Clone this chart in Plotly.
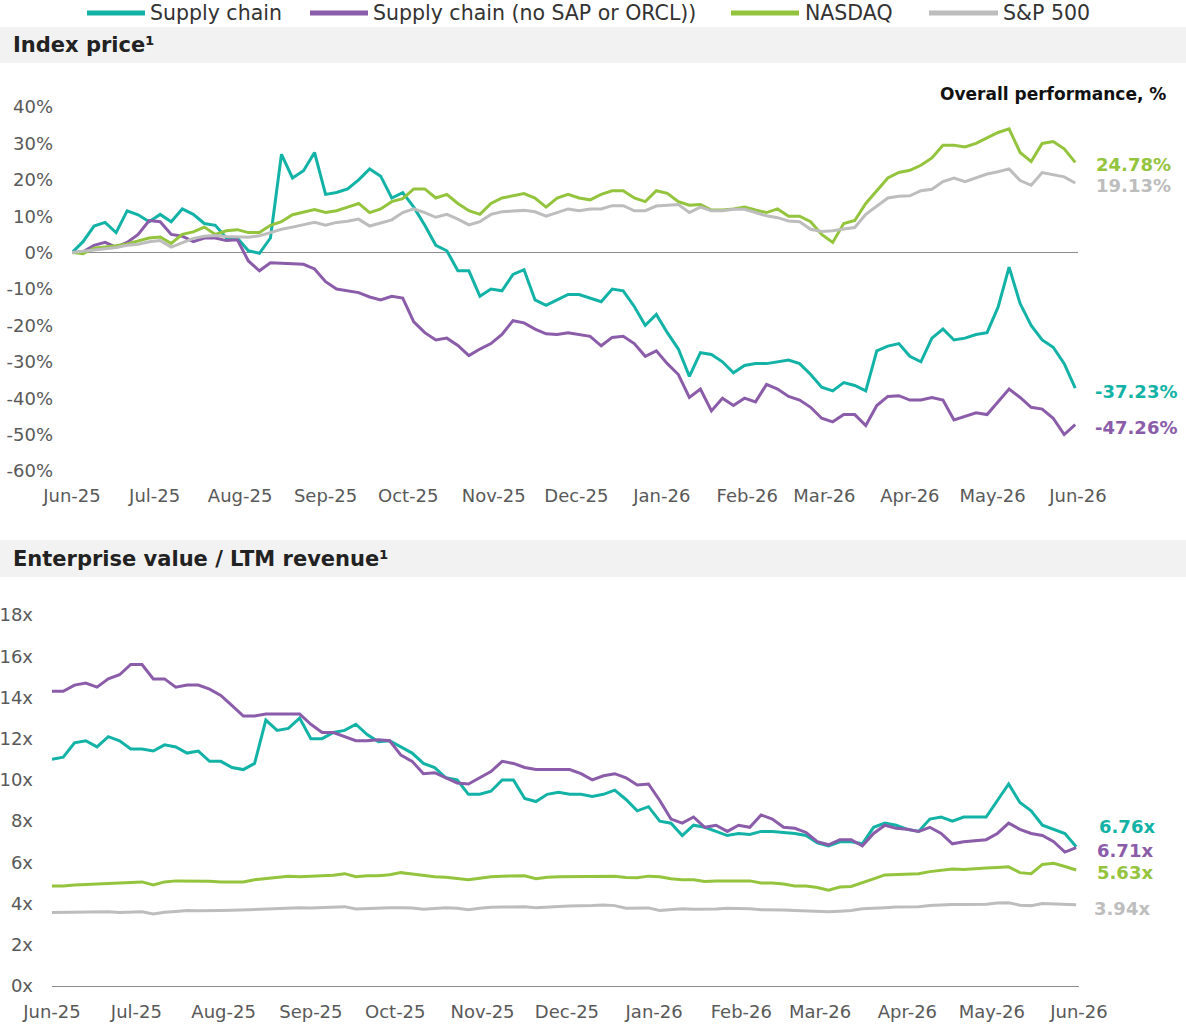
import pandas as pd
import plotly.graph_objects as go

# ---------------- DATA ----------------
dates = pd.date_range("2025-06-01", periods=92, freq="4D")

series_names = ["Supply chain", "Supply chain (no SAP or ORCL))", "NASDAQ", "S&P 500"]

# Index price, % change since start
price_supply = [0, 3, 7.3, 8.3, 5.5, 11.5, 10.4, 8.5, 10.5, 8.5, 12, 10.5, 8, 7.5, 4, 4, 0.5, -0.2, 4, 27,
                20.5, 22.5, 27.5, 16, 16.5, 17.5, 20, 23, 21, 15, 16.5, 12.5, 7.5, 2, 0.5, -5, -5, -12, -10, -10.5,
                -6, -4.7, -13, -14.5, -13, -11.5, -11.5, -12.5, -13.5, -10, -10.5, -14.8, -20, -17, -22, -26.5, -34, -27.5, -28, -30,
                -33, -31, -30.5, -30.5, -30, -29.5, -30.5, -33.5, -37, -38, -35.7, -36.5, -38, -27, -25.7, -25, -28.5, -30, -23.5, -21,
                -24, -23.5, -22.5, -22, -15, -4, -14, -20, -24, -26, -30.5, -37.23]
price_supply_ex = [0, 0.2, 2, 2.8, 1.5, 2.8, 5, 8.8, 8.5, 5, 4.5, 3, 4, 4, 3.3, 3.5, -2.3, -5, -2.8, -3,
                   -3, -3.2, -4.5, -8, -10, -10.5, -11, -12.2, -13, -12, -12.5, -19, -22, -24, -23.5, -25.5, -28.3, -26.5, -25, -22.5,
                   -18.7, -19.3, -21, -22.3, -22.5, -22, -22.5, -23, -25.6, -23.3, -23, -25, -28.5, -27, -30.5, -33.5, -39.8, -37.5, -43.5, -40,
                   -42, -40, -41, -36.2, -37.5, -39.5, -40.5, -42.5, -45.5, -46.5, -44.5, -44.5, -47.5, -42, -39.5, -39.3, -40.5, -40.5, -39.8, -40.5,
                   -46, -45, -44, -44.5, -41, -37.5, -39.8, -42.5, -43, -45.5, -50, -47.26]
price_nasdaq = [0, -0.3, 1.2, 1.5, 1.9, 2.4, 3.3, 4, 4.3, 2.5, 5, 5.7, 7, 5, 6, 6.3, 5.5, 5.5, 7.5, 8.5,
                10.4, 11, 11.8, 11, 11.5, 12.5, 13.5, 11, 12, 14, 14.8, 17.5, 17.5, 15, 16, 13.5, 11.5, 10.5, 13.5, 15,
                15.5, 16.2, 15, 12.5, 15, 16, 15, 14.5, 16, 17, 17, 15, 14, 17, 16.3, 14, 13, 13.2, 11.7, 11.7,
                12, 12.5, 11.7, 11, 12, 10, 10, 8.5, 5, 2.8, 8, 8.8, 13.5, 17, 20.5, 22, 22.6, 24, 26, 29.5,
                29.5, 29, 30, 31.5, 33, 34, 27.5, 25, 30, 30.5, 28.5, 24.78]
price_sp500 = [0, 0.3, 0.8, 1, 1.4, 2, 2.3, 3, 3.3, 1.5, 2.8, 3.9, 4.5, 4.7, 4.4, 4.2, 4.2, 4.6, 5.5, 6.4,
               7, 7.6, 8.3, 7.5, 8.3, 8.6, 9.2, 7.3, 8.1, 9, 11, 12, 11, 9.7, 10.5, 9.2, 7.6, 8.5, 10.5, 11.2,
               11.4, 11.6, 11.2, 10, 11, 12, 11.5, 12, 12, 12.9, 12.9, 11.5, 11.5, 12.8, 13, 13.2, 11, 12.5, 11.5, 11.5,
               11.9, 11.9, 11, 10.1, 9.6, 8.7, 8.5, 6.4, 5.8, 6, 6.5, 6.9, 10.5, 12.8, 15, 15.5, 15.6, 17, 17.4, 19.5,
               20.5, 19.5, 20.5, 21.6, 22.2, 23, 19.8, 18.5, 22, 21.5, 20.8, 19.13]

# Enterprise value / LTM revenue, x
ev_supply = [11, 11.1, 11.8, 11.9, 11.6, 12.1, 11.9, 11.5, 11.5, 11.4, 11.7, 11.6, 11.3, 11.4, 10.9, 10.9, 10.6, 10.5, 10.8, 12.9,
             12.4, 12.5, 13, 12, 12, 12.3, 12.4, 12.7, 12.2, 11.85, 11.9, 11.6, 11.3, 10.8, 10.6, 10.1, 10, 9.3, 9.3, 9.45,
             10, 10, 9.1, 8.95, 9.3, 9.4, 9.3, 9.3, 9.2, 9.3, 9.5, 9.05, 8.5, 8.7, 8.0, 7.9, 7.3, 7.8, 7.7, 7.5,
             7.3, 7.4, 7.35, 7.5, 7.5, 7.45, 7.4, 7.3, 6.95, 6.8, 7.0, 7.0, 6.9, 7.7, 7.9, 7.8, 7.6, 7.5, 8.1, 8.2,
             8.0, 8.2, 8.2, 8.2, 9.0, 9.8, 8.9, 8.5, 7.8, 7.6, 7.4, 6.76]
ev_supply_ex = [14.3, 14.3, 14.6, 14.7, 14.5, 14.9, 15.1, 15.6, 15.6, 14.9, 14.9, 14.5, 14.6, 14.6, 14.4, 14.1, 13.6, 13.1, 13.1, 13.2,
                13.2, 13.2, 13.2, 12.7, 12.3, 12.3, 12.1, 11.9, 11.9, 11.95, 11.9, 11.2, 10.9, 10.3, 10.35, 10.1, 9.85, 9.8, 10.1, 10.4,
                10.9, 10.8, 10.6, 10.5, 10.5, 10.5, 10.5, 10.3, 10, 10.2, 10.3, 10.1, 9.75, 9.8, 9.0, 8.1, 7.9, 8.2, 7.7, 7.8,
                7.5, 7.8, 7.7, 8.3, 8.1, 7.7, 7.65, 7.45, 7.0, 6.85, 7.1, 7.1, 6.8, 7.4, 7.8, 7.65, 7.6, 7.5, 7.7, 7.4,
                6.9, 7.0, 7.05, 7.1, 7.4, 7.9, 7.6, 7.4, 7.3, 7.0, 6.5, 6.71]
ev_nasdaq = [4.85, 4.85, 4.9, 4.93, 4.95, 4.97, 5, 5.03, 5.05, 4.9, 5.05, 5.1, 5.1, 5.08, 5.08, 5.05, 5.05, 5.05, 5.15, 5.2,
             5.25, 5.32, 5.3, 5.33, 5.35, 5.37, 5.45, 5.3, 5.35, 5.35, 5.4, 5.5, 5.43, 5.35, 5.3, 5.28, 5.2, 5.15, 5.23, 5.3,
             5.33, 5.35, 5.35, 5.2, 5.28, 5.3, 5.3, 5.3, 5.3, 5.33, 5.33, 5.27, 5.25, 5.33, 5.3, 5.2, 5.15, 5.15, 5.07, 5.1,
             5.1, 5.07, 5.1, 5.0, 5.0, 4.95, 4.85, 4.85, 4.78, 4.65, 4.8, 4.83, 5.0, 5.2, 5.39, 5.42, 5.45, 5.45, 5.55, 5.63,
             5.68, 5.65, 5.67, 5.72, 5.75, 5.78, 5.5, 5.45, 5.9, 5.95, 5.8, 5.63]
ev_sp500 = [3.56, 3.57, 3.58, 3.6, 3.6, 3.6, 3.57, 3.57, 3.6, 3.5, 3.58, 3.62, 3.66, 3.65, 3.64, 3.66, 3.67, 3.69, 3.7, 3.72,
            3.74, 3.77, 3.8, 3.78, 3.8, 3.81, 3.85, 3.74, 3.77, 3.78, 3.8, 3.8, 3.78, 3.72, 3.77, 3.8, 3.77, 3.7, 3.77, 3.82,
            3.83, 3.84, 3.84, 3.8, 3.84, 3.86, 3.88, 3.88, 3.9, 3.93, 3.9, 3.77, 3.78, 3.79, 3.66, 3.7, 3.75, 3.72, 3.72, 3.74,
            3.77, 3.77, 3.75, 3.7, 3.7, 3.69, 3.66, 3.64, 3.6, 3.6, 3.63, 3.66, 3.75, 3.79, 3.8, 3.83, 3.84, 3.85, 3.9, 3.93,
            3.95, 3.95, 3.96, 3.97, 4.03, 4.04, 3.92, 3.9, 4.0, 3.98, 3.96, 3.94]

price_tickvals = [40, 30, 20, 10, 0, -10, -20, -30, -40, -50, -60]
price_ticktext = ["40%", "30%", "20%", "10%", "0%", "-10%", "-20%", "-30%", "-40%", "-50%", "-60%"]
ev_tickvals = [18, 16, 14, 12, 10, 8, 6, 4, 2, 0]
ev_ticktext = ["18x", "16x", "14x", "12x", "10x", "8x", "6x", "4x", "2x", "0x"]

# ---------------- STYLE ----------------
W, H = 1186, 1024
colors = ["#12B3A6", "#8A5CA9", "#94C43D", "#BDBDBD"]
FONT = "DejaVu Sans"
TICK = dict(family=FONT, size=18, color="#595959")


def X(px):
    return px / W


def Y(py):
    return 1 - py / H


fig = go.Figure()

price_series = [price_supply, price_supply_ex, price_nasdaq, price_sp500]
ev_series = [ev_supply, ev_supply_ex, ev_nasdaq, ev_sp500]

for name, vals, col in zip(series_names, price_series, colors):
    fig.add_trace(go.Scatter(x=dates, y=vals, mode="lines", name=name,
                             line=dict(color=col, width=3), xaxis="x", yaxis="y",
                             showlegend=False, hoverinfo="skip"))
for name, vals, col in zip(series_names, ev_series, colors):
    fig.add_trace(go.Scatter(x=dates, y=vals, mode="lines", name=name,
                             line=dict(color=col, width=3), xaxis="x2", yaxis="y2",
                             showlegend=False, hoverinfo="skip"))

xcommon = dict(type="date", range=["2025-06-01", "2026-06-01"], tickformat="%b-%y",
               dtick="M1", tick0="2025-06-01", showgrid=False, zeroline=False,
               ticks="", tickfont=TICK, automargin=False)

fig.update_layout(
    width=W, height=H,
    margin=dict(l=0, r=0, t=0, b=0, pad=0, autoexpand=False),
    paper_bgcolor="white", plot_bgcolor="white",
    font=dict(family=FONT),
    showlegend=False,
    xaxis=dict(domain=[X(72), X(1078)], anchor="y", showline=False,
               ticklabelstandoff=12, **xcommon),
    yaxis=dict(domain=[Y(471), Y(107)], range=[-60, 40], anchor="x",
               tickvals=price_tickvals, ticktext=price_ticktext,
               showgrid=False, zeroline=True, zerolinecolor="#8C8C8C", zerolinewidth=1,
               showline=False, ticks="", tickfont=TICK, ticklabelstandoff=18, automargin=False),
    xaxis2=dict(domain=[X(52), X(1079)], anchor="y2", showline=True,
                linecolor="#8C8C8C", linewidth=1, ticklabelstandoff=9, **xcommon),
    yaxis2=dict(domain=[Y(986), Y(615)], range=[0, 18], anchor="x2",
                tickvals=ev_tickvals, ticktext=ev_ticktext,
                showgrid=False, zeroline=False, showline=False, ticks="",
                tickfont=TICK, ticklabelstandoff=18, automargin=False),
)

shapes = []
# section header bands
for y0, y1 in [(27, 63), (540, 577)]:
    shapes.append(dict(type="rect", xref="paper", yref="paper", x0=0, x1=1,
                       y0=Y(y1), y1=Y(y0), fillcolor="#F2F2F2", line=dict(width=0), layer="below"))
# legend swatches
legend_pos = [(87, 145, 149), (310, 368, 372), (731, 799, 804), (929, 998, 1002)]
annotations = []
for (s0, s1, tx), name, col in zip(legend_pos, series_names, colors):
    shapes.append(dict(type="line", xref="paper", yref="paper", x0=X(s0), x1=X(s1),
                       y0=Y(13), y1=Y(13), line=dict(color=col, width=5)))
    annotations.append(dict(xref="paper", yref="paper", x=X(tx), y=1, text=name,
                            showarrow=False, xanchor="left", yanchor="top", borderpad=0,
                            font=dict(family=FONT, size=20.5, color="#333333")))

# headers
annotations.append(dict(xref="paper", yref="paper", x=X(11), y=Y(45), text="<b>Index price¹</b>",
                        showarrow=False, xanchor="left", yanchor="middle",
                        font=dict(family=FONT, size=21, color="#222222")))
annotations.append(dict(xref="paper", yref="paper", x=X(11), y=Y(559),
                        text="<b>Enterprise value / LTM revenue¹</b>",
                        showarrow=False, xanchor="left", yanchor="middle",
                        font=dict(family=FONT, size=21, color="#222222")))
annotations.append(dict(xref="paper", yref="paper", x=X(1168), y=Y(94),
                        text="<b>Overall performance, %</b>",
                        showarrow=False, xanchor="right", yanchor="middle",
                        font=dict(family=FONT, size=17, color="#111111")))

# end labels
price_label_pos = [(1093, 391), (1093, 427), (1094, 164), (1094, 185)]
for (lx, ly), vals, col in zip(price_label_pos, price_series, colors):
    annotations.append(dict(xref="paper", yref="paper", x=X(lx), y=Y(ly),
                            text=f"<b>{vals[-1]:.2f}%</b>", showarrow=False,
                            xanchor="left", yanchor="middle",
                            font=dict(family=FONT, size=18, color=col)))
ev_label_pos = [(1097, 826), (1095, 850), (1095, 872), (1092, 908)]
for (lx, ly), vals, col in zip(ev_label_pos, ev_series, colors):
    annotations.append(dict(xref="paper", yref="paper", x=X(lx), y=Y(ly),
                            text=f"<b>{vals[-1]:.2f}x</b>", showarrow=False,
                            xanchor="left", yanchor="middle",
                            font=dict(family=FONT, size=18, color=col)))

fig.update_layout(shapes=shapes, annotations=annotations)
fig.write_html("out.html")
